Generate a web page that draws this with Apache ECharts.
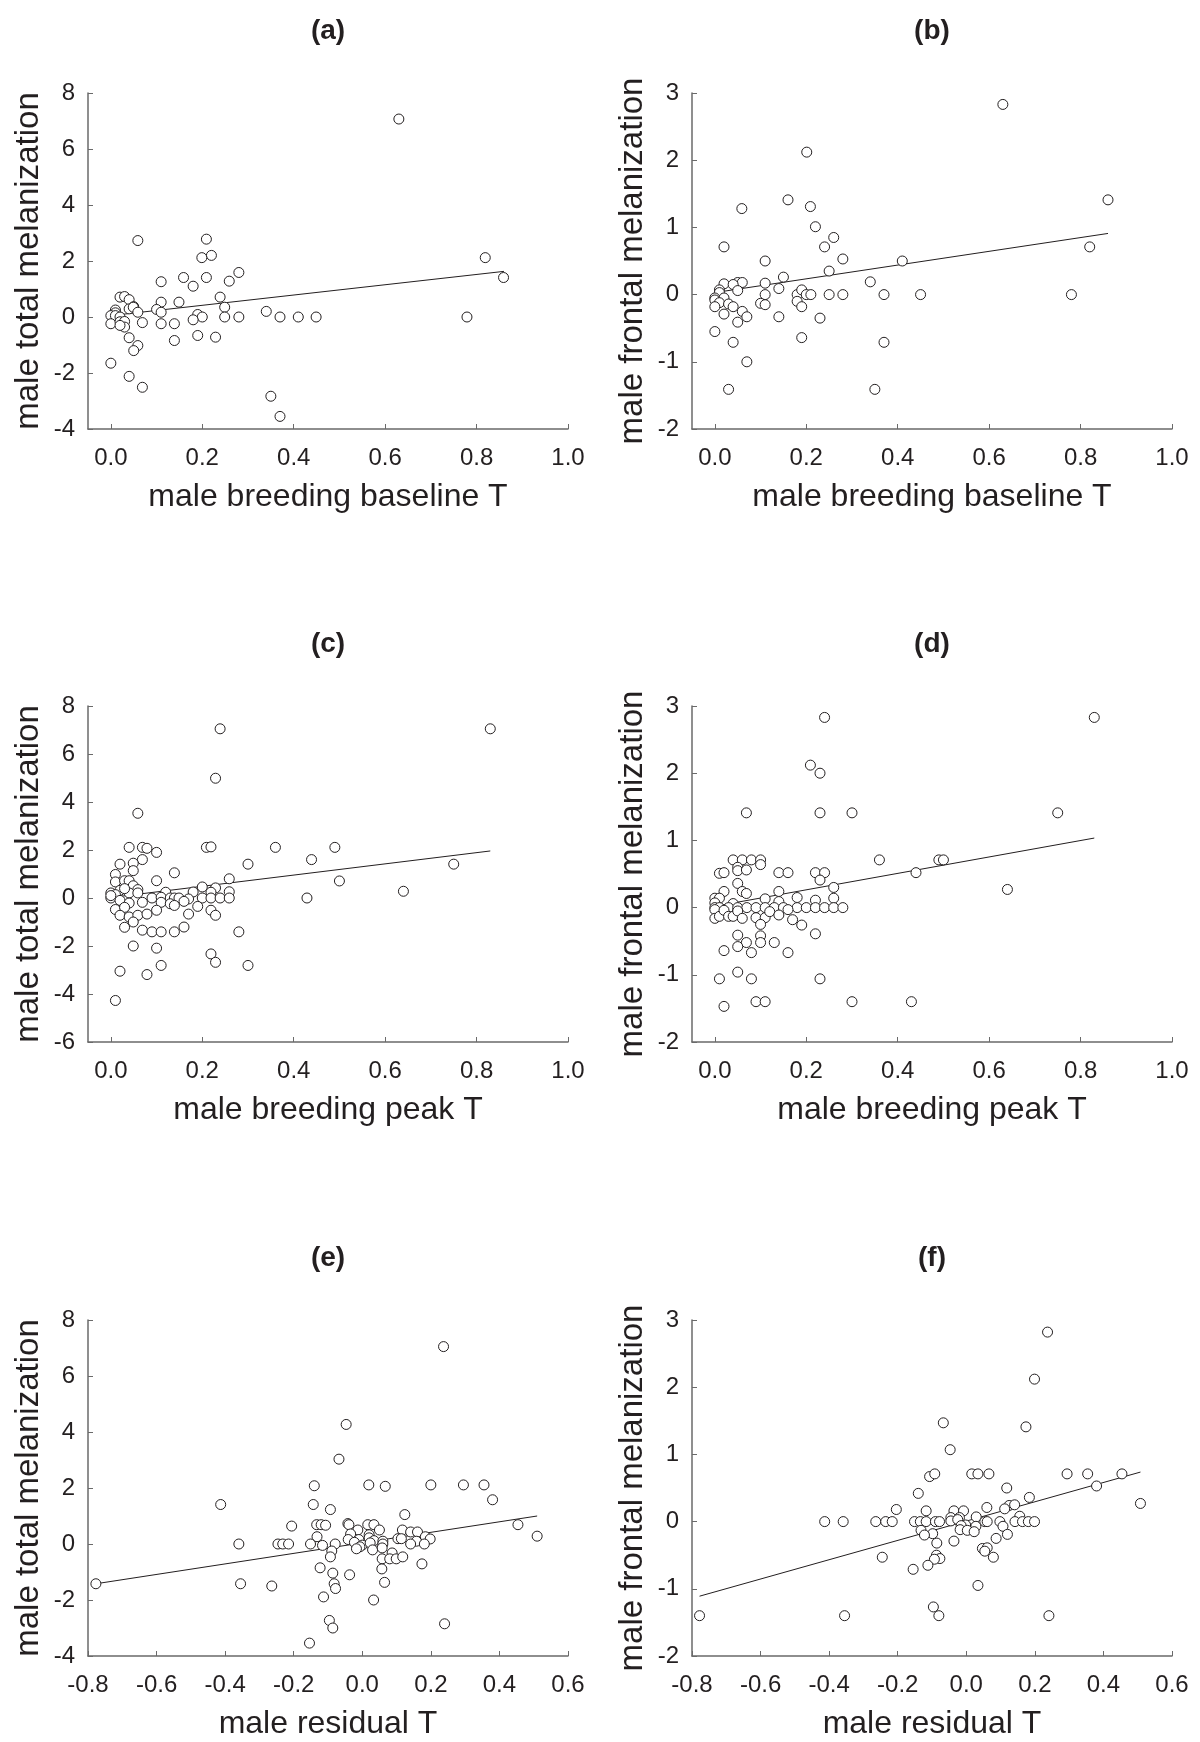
<!DOCTYPE html>
<html>
<head>
<meta charset="utf-8">
<script src="https://cdn.jsdelivr.net/npm/echarts@6/dist/echarts.min.js"></script>
<style>
html,body{margin:0;padding:0;background:#fff;}
#chart{width:1200px;height:1742px;}
</style>
</head>
<body>
<div id="chart"></div>
<script>
// ---------- DATA ----------
const panelTitles = ['(a)', '(b)', '(c)', '(d)', '(e)', '(f)'];
const xNames = ['male breeding baseline T', 'male breeding baseline T', 'male breeding peak T', 'male breeding peak T', 'male residual T', 'male residual T'];
const yNames = ['male total melanization', 'male frontal melanization', 'male total melanization', 'male frontal melanization', 'male total melanization', 'male frontal melanization'];

const xTicksT = [0.0, 0.2, 0.4, 0.6, 0.8, 1.0];

// (a) baseline T vs total melanization
const pointsA = [
 [0.63,7.07],[0.059,2.73],[0.209,2.78],[0.22,2.20],[0.199,2.12],[0.819,2.12],[0.28,1.59],[0.159,1.41],[0.209,1.41],[0.859,1.41],
 [0.11,1.26],[0.259,1.28],[0.18,1.10],[0.02,0.71],[0.03,0.73],[0.04,0.62],[0.239,0.71],[0.11,0.53],[0.149,0.53],[0.05,0.37],
 [0.04,0.29],[0.049,0.35],[0.10,0.27],[0.249,0.35],[0.059,0.17],[0.11,0.17],[0.01,0.25],[0.01,0.15],[0.0,0.05],[0.01,0.05],
 [0.02,0.0],[0.34,0.2],[0.19,0.09],[0.2,0.0],[0.249,0.0],[0.28,0.0],[0.37,0.0],[0.41,0.0],[0.449,0.0],[0.779,0.0],
 [0.18,-0.1],[0.0,-0.24],[0.02,-0.17],[0.03,-0.16],[0.03,-0.36],[0.069,-0.2],[0.11,-0.24],[0.139,-0.24],[0.02,-0.3],[0.04,-0.74],
 [0.139,-0.84],[0.19,-0.66],[0.229,-0.72],[0.059,-1.02],[0.05,-1.2],[0.0,-1.65],[0.04,-2.12],[0.069,-2.51],[0.35,-2.83],[0.37,-3.55]
];
const lineA = [[0.0,0.05],[0.86,1.63]];

// (b) baseline T vs frontal melanization
const pointsB = [
 [0.63,2.83],[0.201,2.12],[0.16,1.41],[0.86,1.41],[0.209,1.31],[0.059,1.28],[0.22,1.01],[0.26,0.85],[0.02,0.71],[0.24,0.71],
 [0.82,0.71],[0.28,0.53],[0.11,0.50],[0.41,0.50],[0.25,0.35],[0.15,0.26],[0.34,0.19],[0.02,0.16],[0.05,0.18],[0.06,0.18],
 [0.11,0.17],[0.04,0.15],[0.14,0.09],[0.05,0.06],[0.01,0.07],[0.01,0.03],[0.11,0.0],[0.18,0.0],[0.19,0.07],[0.20,0.0],
 [0.21,0.0],[0.25,0.0],[0.28,0.0],[0.37,0.0],[0.45,0.0],[0.78,0.0],[0.0,-0.05],[0.0,-0.08],[0.02,-0.05],[0.01,-0.12],
 [0.03,-0.14],[0.0,-0.18],[0.04,-0.18],[0.10,-0.13],[0.11,-0.15],[0.18,-0.1],[0.19,-0.18],[0.06,-0.25],[0.02,-0.29],[0.07,-0.33],
 [0.14,-0.33],[0.23,-0.35],[0.05,-0.41],[0.0,-0.55],[0.19,-0.64],[0.04,-0.71],[0.37,-0.71],[0.07,-1.0],[0.03,-1.41],[0.35,-1.41]
];
const lineB = [[0.0,0.03],[0.86,0.91]];

// (c) peak T vs total melanization
const pointsC = [
 [0.239,7.05],[0.83,7.05],[0.229,4.99],[0.059,3.53],[0.04,2.11],[0.069,2.11],[0.079,2.07],[0.209,2.11],[0.219,2.13],[0.36,2.11],
 [0.49,2.11],[0.10,1.90],[0.069,1.6],[0.439,1.6],[0.02,1.41],[0.049,1.45],[0.30,1.41],[0.75,1.41],[0.049,1.14],[0.139,1.05],
 [0.01,0.98],[0.01,0.67],[0.03,0.72],[0.04,0.72],[0.10,0.72],[0.50,0.71],[0.259,0.80],[0.02,0.32],[0.049,0.51],[0.059,0.35],
 [0.04,0.21],[0.059,0.21],[0.0,0.21],[0.01,0.14],[0.03,0.39],[0.12,0.24],[0.2,0.46],[0.229,0.42],[0.18,0.25],[0.64,0.28],
 [0.259,0.26],[0.219,0.24],[0.0,0.0],[0.09,0.0],[0.11,0.03],[0.13,0.0],[0.139,0.0],[0.149,0.0],[0.17,-0.04],[0.2,0.0],
 [0.219,0.0],[0.239,0.0],[0.259,0.0],[0.429,0.0],[0.02,-0.1],[0.04,-0.21],[0.069,-0.18],[0.11,-0.18],[0.16,-0.14],[0.01,-0.48],
 [0.03,-0.39],[0.13,-0.24],[0.139,-0.31],[0.1,-0.51],[0.02,-0.72],[0.04,-0.79],[0.059,-0.72],[0.079,-0.67],[0.19,-0.35],[0.17,-0.67],
 [0.219,-0.51],[0.229,-0.72],[0.049,-1.0],[0.03,-1.22],[0.069,-1.34],[0.09,-1.41],[0.11,-1.41],[0.139,-1.41],[0.16,-1.21],[0.28,-1.41],
 [0.049,-2.0],[0.10,-2.09],[0.219,-2.33],[0.229,-2.68],[0.11,-2.81],[0.30,-2.81],[0.02,-3.05],[0.079,-3.19],[0.01,-4.27],[0.0,0.1]
];
const lineC = [[0.0,0.02],[0.83,1.96]];

// (d) peak T vs frontal melanization
const pointsD = [
 [0.24,2.83],[0.83,2.83],[0.209,2.12],[0.23,2.0],[0.069,1.41],[0.23,1.41],[0.30,1.41],[0.75,1.41],[0.04,0.71],[0.06,0.71],
 [0.08,0.71],[0.10,0.71],[0.36,0.71],[0.49,0.71],[0.50,0.71],[0.10,0.64],[0.05,0.60],[0.05,0.55],[0.069,0.56],[0.01,0.51],
 [0.02,0.52],[0.14,0.52],[0.16,0.52],[0.22,0.52],[0.24,0.52],[0.44,0.52],[0.23,0.41],[0.05,0.36],[0.26,0.30],[0.64,0.27],
 [0.02,0.24],[0.06,0.24],[0.069,0.21],[0.14,0.24],[0.0,0.14],[0.01,0.14],[0.11,0.13],[0.14,0.09],[0.18,0.15],[0.22,0.11],
 [0.26,0.14],[0.04,0.06],[0.0,0.07],[0.0,0.0],[0.01,0.0],[0.03,0.0],[0.05,0.0],[0.07,0.0],[0.09,0.0],[0.11,0.0],
 [0.13,0.0],[0.15,0.0],[0.18,0.0],[0.20,0.0],[0.22,0.0],[0.24,0.0],[0.26,0.0],[0.28,0.0],[0.0,-0.03],[0.0,-0.16],
 [0.01,-0.13],[0.02,-0.04],[0.03,-0.13],[0.04,-0.13],[0.05,-0.05],[0.06,-0.16],[0.09,-0.15],[0.11,-0.15],[0.10,-0.25],[0.12,-0.06],
 [0.14,-0.11],[0.16,-0.03],[0.17,-0.18],[0.19,-0.26],[0.22,-0.39],[0.05,-0.41],[0.10,-0.42],[0.10,-0.52],[0.069,-0.52],[0.13,-0.52],
 [0.05,-0.58],[0.08,-0.67],[0.02,-0.64],[0.16,-0.67],[0.05,-0.96],[0.01,-1.06],[0.08,-1.06],[0.23,-1.06],[0.09,-1.40],[0.11,-1.40],
 [0.30,-1.40],[0.43,-1.40],[0.02,-1.47]
];
const lineD = [[0.0,0.02],[0.83,1.035]];

// (e) residual T vs total melanization
const pointsE = [
 [0.237,7.05],[-0.047,4.27],[-0.068,3.03],[-0.14,2.08],[0.019,2.11],[0.067,2.06],[0.2,2.11],[0.295,2.11],[0.355,2.11],[0.38,1.58],
 [-0.413,1.41],[-0.143,1.41],[-0.093,1.23],[0.124,1.05],[-0.206,0.64],[-0.133,0.69],[-0.12,0.69],[-0.107,0.67],[-0.042,0.73],[-0.039,0.69],
 [0.016,0.69],[0.034,0.69],[0.454,0.69],[-0.013,0.5],[0.05,0.5],[0.117,0.5],[-0.034,0.36],[0.141,0.43],[0.161,0.43],[0.02,0.33],
 [-0.132,0.26],[0.02,0.22],[0.034,0.12],[-0.041,0.16],[-0.01,0.16],[0.104,0.19],[0.114,0.19],[0.184,0.26],[0.198,0.18],[0.51,0.28],
 [0.06,0.1],[0.158,0.1],[-0.36,0.0],[-0.246,0.0],[-0.232,0.0],[-0.215,0.0],[-0.151,0.0],[-0.116,-0.05],[-0.079,0.0],[-0.023,0.06],
 [0.0,-0.04],[0.023,0.04],[0.06,0.0],[0.141,0.0],[0.181,0.0],[-0.007,-0.1],[-0.017,-0.17],[0.03,-0.21],[0.058,-0.14],[-0.089,-0.25],
 [-0.093,-0.46],[0.087,-0.32],[0.058,-0.53],[0.08,-0.53],[0.099,-0.53],[0.118,-0.46],[0.174,-0.71],[-0.123,-0.85],[0.057,-0.89],[-0.086,-1.04],
 [-0.037,-1.1],[-0.777,-1.42],[-0.355,-1.42],[-0.082,-1.42],[0.065,-1.37],[-0.264,-1.5],[-0.078,-1.59],[-0.113,-1.89],[0.033,-2.0],[-0.096,-2.73],
 [0.24,-2.85],[-0.086,-3.0],[-0.154,-3.54]
];
const lineE = [[-0.777,-1.42],[0.51,1.0]];

// (f) residual T vs frontal melanization
const pointsF = [
 [0.237,2.82],[0.199,2.12],[0.174,1.41],[-0.067,1.47],[-0.047,1.07],[-0.107,0.67],[-0.092,0.71],[0.016,0.71],[0.034,0.71],[0.066,0.71],
 [0.294,0.71],[0.354,0.71],[0.454,0.71],[0.38,0.53],[0.118,0.50],[-0.14,0.42],[0.184,0.36],[0.508,0.27],[0.125,0.24],[0.141,0.25],
 [0.06,0.21],[0.112,0.19],[-0.204,0.18],[-0.117,0.16],[-0.036,0.16],[-0.008,0.16],[0.156,0.08],[0.029,0.07],[-0.045,0.06],[-0.02,0.06],
 [-0.413,0.0],[-0.359,0.0],[-0.264,0.0],[-0.235,0.0],[-0.216,0.0],[-0.151,0.0],[-0.134,0.0],[-0.117,0.0],[-0.09,0.0],[-0.078,0.0],
 [-0.045,0.01],[-0.025,0.03],[0.054,0.0],[0.061,0.0],[0.098,0.0],[0.142,0.0],[0.164,0.0],[0.181,0.0],[0.199,0.0],[-0.002,-0.05],
 [-0.015,-0.06],[0.028,-0.07],[0.107,-0.07],[-0.132,-0.13],[-0.018,-0.12],[0.003,-0.13],[0.023,-0.15],[-0.098,-0.18],[-0.122,-0.2],[0.12,-0.19],
 [0.087,-0.25],[-0.036,-0.29],[-0.086,-0.32],[0.047,-0.4],[0.061,-0.39],[0.054,-0.44],[0.079,-0.53],[-0.245,-0.53],[-0.087,-0.5],[-0.077,-0.55],
 [-0.093,-0.56],[-0.112,-0.65],[-0.155,-0.71],[0.034,-0.95],[-0.096,-1.27],[-0.778,-1.4],[-0.355,-1.4],[-0.08,-1.4],[0.241,-1.4]
];
const lineF = [[-0.778,-1.11],[0.508,0.737]];

const allPoints = [pointsA, pointsB, pointsC, pointsD, pointsE, pointsF];
const allLines = [lineA, lineB, lineC, lineD, lineE, lineF];
const yRanges = [[-4,8,2],[-2,3,1],[-6,8,2],[-2,3,1],[-4,8,2],[-2,3,1]];

// ---------- LAYOUT ----------
const colLeft = [88, 692];
const rowTop = [93, 706, 1320];
const plotW = 480, plotH = 336;
const axisColor = '#6a6a6a';
const textColor = '#231f20';
const fontFam = '"Liberation Sans", Arial, Helvetica, sans-serif';

const grids = [], xAxes = [], yAxes = [], series = [], titles = [];
for (let i = 0; i < 6; i++) {
  const c = i % 2, r = Math.floor(i / 2);
  grids.push({left: colLeft[c], top: rowTop[r], width: plotW, height: plotH, containLabel: false, outerBoundsMode: 'none'});
  titles.push({
    text: panelTitles[i], left: colLeft[c] + plotW / 2, top: rowTop[r] - 76, textAlign: 'center', padding: 0,
    textStyle: {fontFamily: fontFam, fontWeight: 'bold', fontSize: 28, color: textColor}
  });
  const residual = r === 2;
  const xa = {
    gridIndex: i, type: 'value', name: xNames[i], nameLocation: 'middle', nameGap: 52,
    nameTextStyle: {fontFamily: fontFam, fontSize: 32, color: textColor},
    splitLine: {show: false},
    axisLine: {show: true, onZero: false, lineStyle: {color: axisColor, width: 1.5}},
    axisTick: {show: true, inside: true, length: 5, lineStyle: {color: axisColor, width: 1}},
    axisLabel: {fontFamily: fontFam, fontSize: 24, color: textColor, margin: 17, formatter: v => v.toFixed(1)}
  };
  if (residual) {
    xa.min = -0.8; xa.max = 0.6; xa.interval = 0.2;
  } else {
    xa.min = -0.05; xa.max = 1.0;
    xa.axisLabel.customValues = xTicksT;
    xa.axisTick.customValues = xTicksT;
  }
  xAxes.push(xa);
  const yr = yRanges[i];
  yAxes.push({
    gridIndex: i, type: 'value', min: yr[0], max: yr[1], interval: yr[2],
    name: yNames[i], nameLocation: 'middle', nameGap: 43,
    nameTextStyle: {fontFamily: fontFam, fontSize: 33, color: textColor},
    splitLine: {show: false},
    axisLine: {show: true, onZero: false, lineStyle: {color: axisColor, width: 1.5}},
    axisTick: {show: true, inside: true, length: 5, lineStyle: {color: axisColor, width: 1}},
    axisLabel: {fontFamily: fontFam, fontSize: 24, color: textColor, margin: 13}
  });
  series.push({
    type: 'line', xAxisIndex: i, yAxisIndex: i, data: allLines[i], symbol: 'none', silent: true, z: 2,
    lineStyle: {color: '#231f20', width: 1}
  });
  series.push({
    type: 'scatter', xAxisIndex: i, yAxisIndex: i, data: allPoints[i], symbol: 'circle', symbolSize: 10, z: 3,
    itemStyle: {color: '#ffffff', borderColor: '#231f20', borderWidth: 1, opacity: 1}
  });
}

const chart = echarts.init(document.getElementById('chart'), null, {renderer: 'canvas'});
chart.setOption({
  animation: false,
  backgroundColor: '#ffffff',
  title: titles,
  grid: grids,
  xAxis: xAxes,
  yAxis: yAxes,
  series: series
});
</script>
</body>
</html>
